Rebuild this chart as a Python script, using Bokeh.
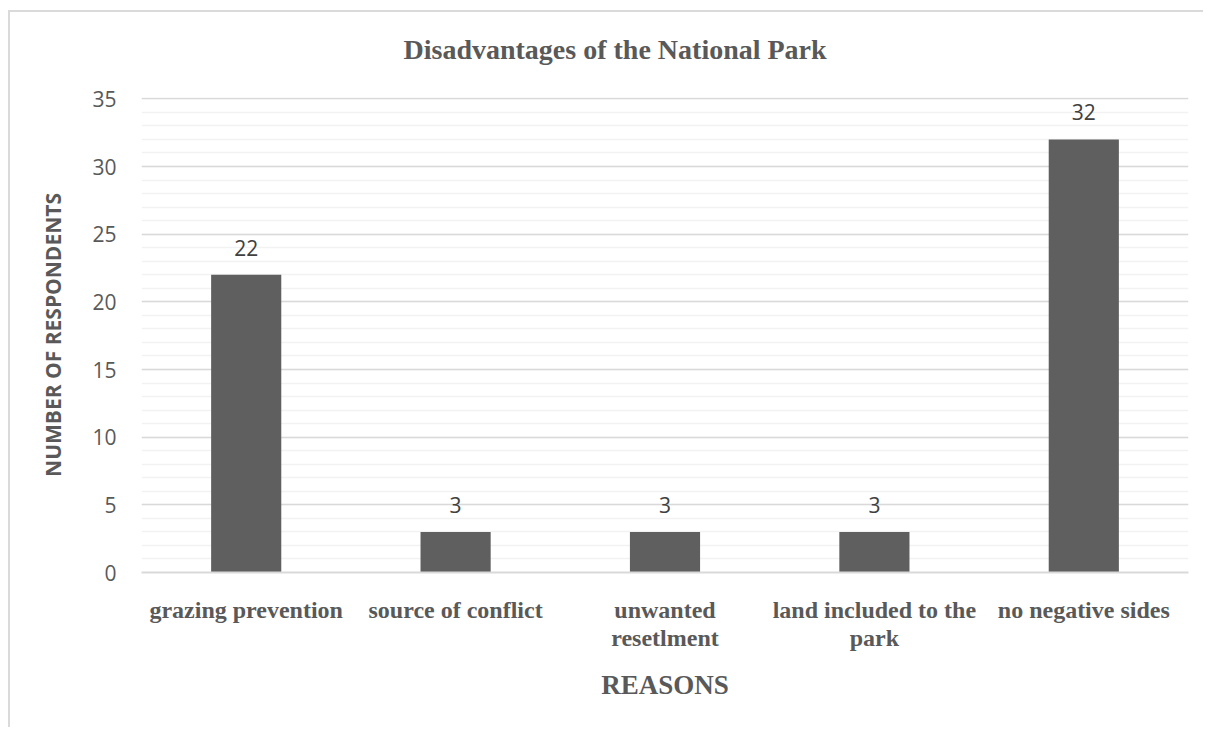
from bokeh.plotting import figure
from bokeh.models import ColumnDataSource, LabelSet, SingleIntervalTicker, Range1d
from bokeh.core.properties import value
from bokeh.embed import file_html
from bokeh.resources import INLINE

categories = ["grazing prevention", "source of conflict", "unwanted\nresetlment",
              "land included to the\npark", "no negative sides"]
values = [22, 3, 3, 3, 32]
title_text = "Disadvantages of the National Park"
x_title = "REASONS"
y_title = "NUMBER OF RESPONDENTS"

GRAY = "#595959"

source = ColumnDataSource(dict(cat=categories, val=values, lab=[str(v) for v in values]))

p = figure(x_range=categories, y_range=Range1d(0, 35.1), width=1195, height=717,
           output_backend="svg", toolbar_location=None,
           min_border_left=131, min_border_right=17, min_border_top=85, min_border_bottom=157)
p.margin = (10, 0, 0, 8)
p.styles = {"border-top": "2px solid #dadada", "border-left": "2px solid #dadada"}

p.vbar(x="cat", top="val", width=0.335, source=source, color="#5f5f5f", line_color=None)

labels = LabelSet(x="cat", y="val", text="lab", source=source, y_offset=27,
                  text_align="center", text_baseline="middle",
                  text_font=value("Open Sans"), text_font_size=value("21px"),
                  text_color=value("#404040"))
p.add_layout(labels)

# title (a blank second line lifts it higher above the frame)
p.title.text = title_text + "\n "
p.title.text_font = "Liberation Serif"
p.title.text_font_style = "bold"
p.title.text_font_size = "28px"
p.title.text_color = GRAY
p.title.text_line_height = 1.0
p.title.align = "left"
p.title.offset = 262
p.title.vertical_align = "bottom"
p.title.standoff = 4

# y axis
p.yaxis.ticker = SingleIntervalTicker(interval=5, num_minor_ticks=5)
p.yaxis.axis_line_color = None
p.yaxis.major_tick_line_color = None
p.yaxis.minor_tick_line_color = None
p.yaxis.major_label_text_font = "Open Sans"
p.yaxis.major_label_text_font_size = "21px"
p.yaxis.major_label_text_color = GRAY
p.yaxis.major_label_standoff = 19
p.yaxis.axis_label = y_title
p.yaxis.axis_label_text_font = "Open Sans"
p.yaxis.axis_label_text_font_style = "bold"
p.yaxis.axis_label_text_font_size = "21px"
p.yaxis.axis_label_text_color = GRAY
p.yaxis.axis_label_standoff = 22

# x axis
p.xaxis.axis_line_color = "#d9d9d9"
p.xaxis.axis_line_width = 2
p.xaxis.major_tick_line_color = None
p.xaxis.minor_tick_line_color = None
p.xaxis.major_label_text_font = "Liberation Serif"
p.xaxis.major_label_text_font_style = "bold"
p.xaxis.major_label_text_font_size = "24px"
p.xaxis.major_label_text_color = GRAY
p.xaxis.major_label_text_line_height = 1.1
p.xaxis.major_label_standoff = 18
p.xaxis.axis_label = x_title
p.xaxis.axis_label_text_font = "Liberation Serif"
p.xaxis.axis_label_text_font_style = "bold"
p.xaxis.axis_label_text_font_size = "27px"
p.xaxis.axis_label_text_color = GRAY
p.xaxis.axis_label_standoff = 16

# grid
p.xgrid.grid_line_color = None
p.ygrid.grid_line_color = "#d9d9d9"
p.ygrid.grid_line_width = 1.5
p.ygrid.minor_grid_line_color = "#f2f2f2"
p.ygrid.minor_grid_line_width = 1.5
p.outline_line_color = None

open("out.html", "w").write(file_html(p, INLINE))
